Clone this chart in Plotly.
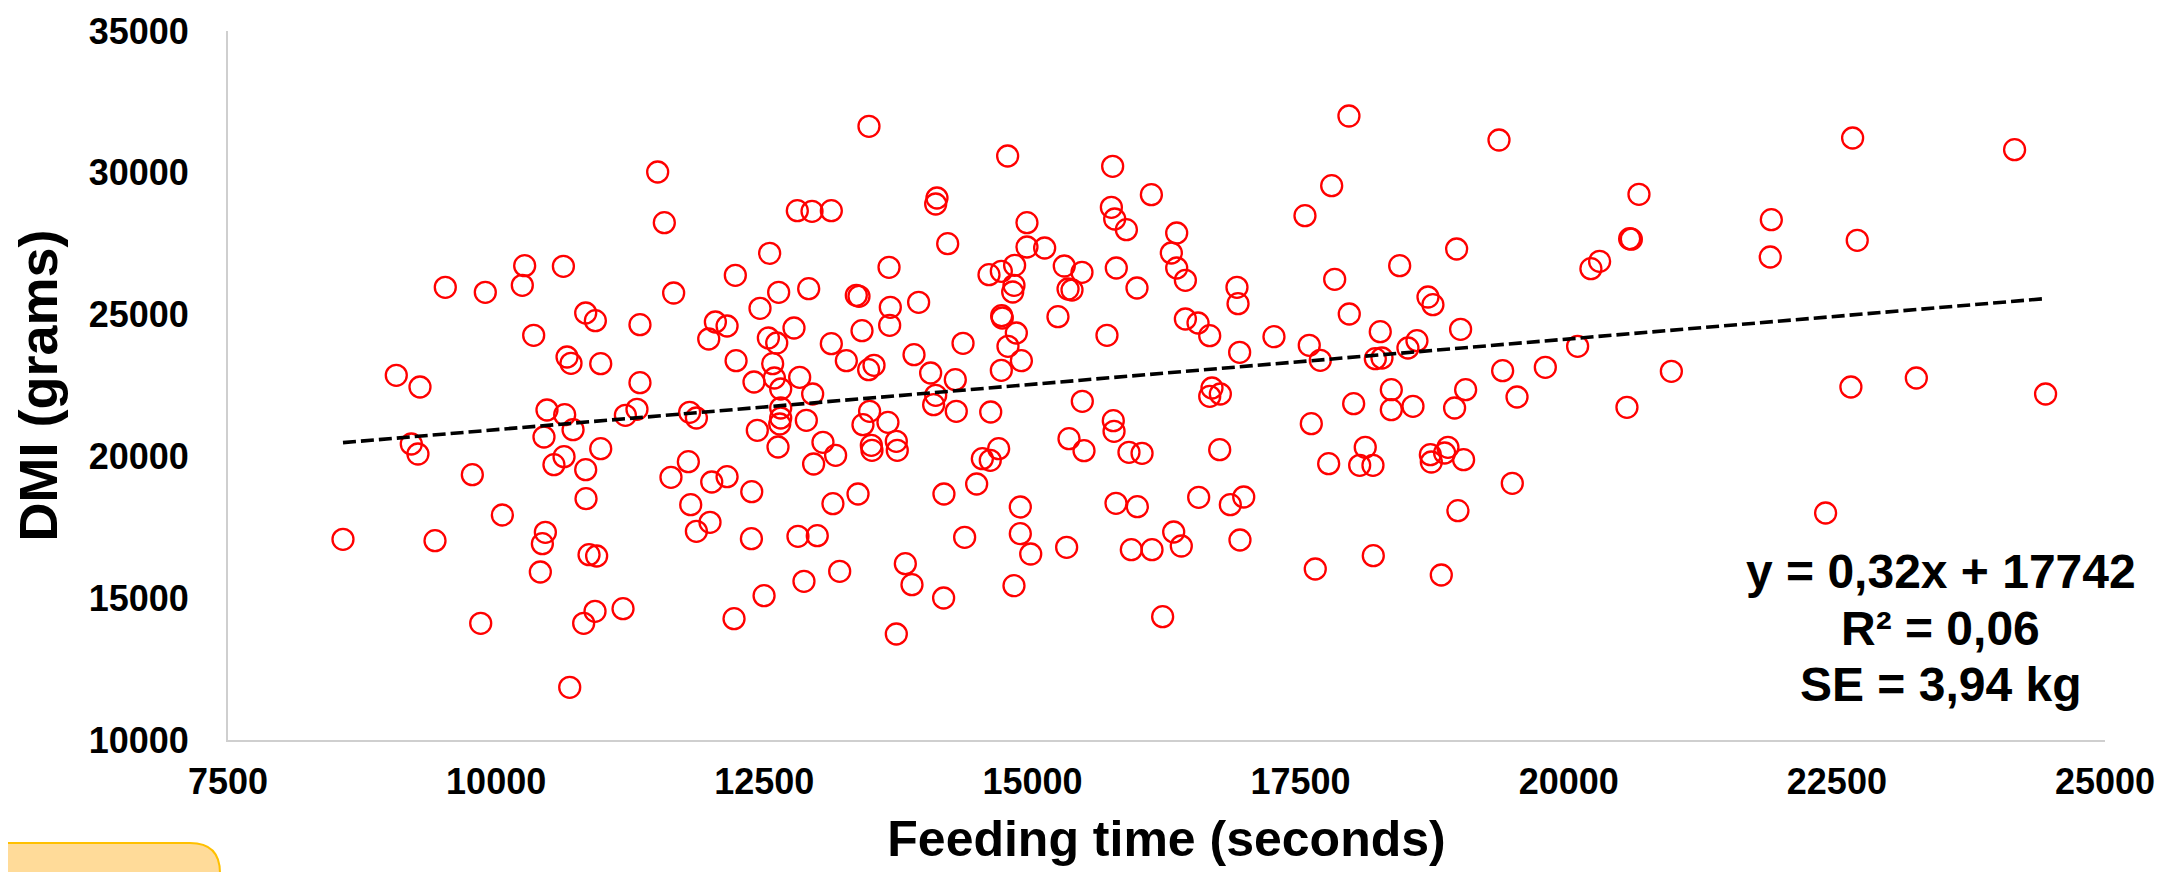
import plotly.graph_objects as go

# Feeding time (seconds)
feeding_time = [
    11506, 11568, 12550, 12230, 12634, 11655, 9526, 9899, 10266, 10627, 10244, 10835, 10925, 11341,
    10350, 12044, 12153, 11982, 12460, 12538, 12616, 10661, 10698, 10975, 12237, 12578, 12594, 12653,
    12404, 9069, 9290, 11341, 10474, 10639, 11205, 11313, 11804, 11867, 12653, 12653,
    12644, 12435, 12628, 10717, 10446, 9209, 9271, 10975, 10633, 10539, 10835, 9778, 10838, 10058,
    10459, 10431, 10412, 8572, 9430, 10866, 10937, 9856, 10816, 10922, 11183, 10686, 11792, 11630,
    12010, 12153, 12383, 11814, 11994, 11867, 12380, 12498, 12218,
    13476, 14769, 15748, 16109, 12808, 12945, 13125, 14110, 14098, 14210, 14949, 15736, 15767, 15876,
    16345, 16295, 16345, 16426, 14949, 15114, 14834, 14710, 14595, 14828, 14816, 15297, 15462, 15332,
    15369, 15782, 15975, 16907, 16917, 16426, 16544, 16653, 16932, 15695, 15238, 13663, 12914, 13358,
    13383, 13939, 13675, 13669, 13411, 12777, 13125, 13265, 13473, 13523, 13896, 14051, 14281, 14353,
    14713, 14719, 14850, 14772, 14897, 14710, 12830, 12951, 14098, 14079, 14290, 14611, 13482, 15465,
    16674, 16653, 16752,
    12892, 13420, 13653, 13047, 13165, 12960, 13498, 13504, 13731, 13740, 14533, 14607, 14685, 14480,
    14175, 13374, 13140, 12814, 12994, 13203, 12870, 13815, 13877, 14172, 13731, 14368, 14887, 14887,
    14984, 14828, 15319, 15341, 15481, 15754, 15761, 15900, 16022, 15779, 15978, 15922, 16115, 16317,
    16388, 16214, 16746, 16550, 16845, 16970, 16935,
    17951, 19350, 17790, 17541, 20655, 20568, 20584, 18955, 18424, 20288, 20207, 17818, 17954, 18688,
    18734, 18243, 18992, 17252, 17581, 17684, 18197, 18259, 18501, 18585, 20083, 20957, 19384, 19782,
    18346, 19039, 19518, 17995, 18346, 18548, 18936, 20543,
    17600, 18103, 17762, 18051, 18175, 18710, 18719, 18874, 18843, 19020, 19474, 18967, 17637, 18178,
    18812,
    22647, 24157, 21889, 21879, 22690, 22631, 23241, 24446, 22395,
]

# DMI (grams)
dmi = [
    30028, 28241, 27160, 26384, 25785, 25761, 25961, 25785, 26725, 26702, 26032, 25056, 24786, 24645,
    24269, 24739, 24598, 24140, 25221, 24175, 23998, 23505, 23281, 23270, 23375, 23270, 22764, 22376,
    22623, 22858, 22447, 22600, 21636, 21471, 21448, 21660, 21554, 21354, 21354, 21707,
    21142, 20919, 20331, 20942, 20684, 20437, 20084, 20272, 19990, 19708, 19532, 19356, 18509, 17934,
    17322, 16923, 15924, 17076, 17029, 16535, 16488, 14114, 14114, 14537, 14631, 11857, 19814, 19262,
    19097, 19285, 18756, 18298, 17675, 17358, 17099, 15089, 14278,
    31638, 30592, 30228, 29229, 28664, 28641, 28664, 29111, 28900, 27501, 28241, 28782, 28371, 27995,
    27877, 27172, 26643, 26208, 27383, 27348, 26737, 26525, 26408, 26032, 25797, 26713, 26490, 25902,
    25867, 26643, 25938, 25961, 25385, 24845, 24704, 24257, 23669, 24269, 24927, 26666, 25914, 25679,
    25644, 25432, 25256, 24621, 24433, 24527, 23975, 23375, 23058, 23211, 23587, 22941, 22706, 23987,
    24962, 24880, 24351, 23881, 23375, 23035, 22788, 22200, 22153, 21824, 21589, 21566, 21589, 21941,
    22412, 22118, 22200,
    21271, 21119, 21200, 20496, 20037, 19732, 20390, 20214, 20531, 20214, 19920, 19861, 20272, 19027,
    18674, 18674, 18333, 17181, 17205, 15947, 15595, 16218, 15477, 15007, 13738, 17146, 18216, 17275,
    16558, 15442, 16793, 20625, 20202, 21259, 20884, 20143, 20108, 18345, 18228, 16711, 16711, 17334,
    16840, 14349, 20237, 18556, 18298, 18568, 17052,
    32002, 31156, 29546, 28488, 29240, 27677, 27660, 27313, 26725, 26878, 26619, 26243, 25021, 25620,
    25350, 24398, 24480, 24222, 23916, 23387, 23446, 23470, 23822, 24081, 23881, 22999, 23023, 23141,
    22353, 22353, 22094, 21859, 21648, 21765, 21707, 21730,
    21154, 20320, 19744, 19685, 19685, 20061, 19802, 20320, 20120, 19885, 19050, 18086, 16030, 16500,
    15818,
    31227, 30815, 28347, 27031, 27618, 22447, 22764, 22200, 18004,
]

# Trendline (as printed on the chart)
slope = 0.32
intercept = 17742
equation_lines = ["y = 0,32x + 17742", "R² = 0,06", "SE = 3,94 kg"]

x_ticks = [7500, 10000, 12500, 15000, 17500, 20000, 22500, 25000]
y_ticks = [10000, 15000, 20000, 25000, 30000, 35000]

FONT = "Liberation Sans, Arial, sans-serif"

fig = go.Figure()
fig.add_trace(go.Scatter(
    x=feeding_time, y=dmi, mode="markers",
    marker=dict(symbol="circle-open", size=21, color="#FF0000", line=dict(width=2.3, color="#FF0000")),
    showlegend=False, hoverinfo="x+y",
))

x_line = [min(feeding_time), max(feeding_time)]
y_line = [slope * v + intercept for v in x_line]
fig.add_trace(go.Scatter(
    x=x_line, y=y_line, mode="lines",
    line=dict(color="black", width=3.6, dash="13px,5px"),
    showlegend=False, hoverinfo="skip",
))

ann_y = [0.2370, 0.1566, 0.0776]
for txt, yy in zip(equation_lines, ann_y):
    fig.add_annotation(
        text=txt, xref="paper", yref="paper", x=0.9126, y=yy,
        xanchor="center", yanchor="middle", showarrow=False,
        font=dict(family=FONT, size=48, color="black", weight="bold"),
    )

# decorative rounded tab at bottom-left
x0, x1 = -0.13, -0.00426
y0, y1 = -0.25, -0.14528
rx, ry = 0.016, 0.0423
fig.add_shape(
    type="path", xref="paper", yref="paper",
    path=f"M {x0},{y0} L {x0},{y1} L {x1-rx},{y1} Q {x1},{y1} {x1},{y1-ry} L {x1},{y0} Z",
    fillcolor="#FFDB99", line=dict(color="#FFC000", width=2), layer="above",
)

fig.update_layout(
    width=2178, height=872,
    margin=dict(l=220, r=81, t=23, b=140),
    plot_bgcolor="white", paper_bgcolor="white",
    font=dict(family=FONT, color="black"),
    xaxis=dict(
        range=[7500, 25000], tickvals=x_ticks, tickformat="d",
        showgrid=False, zeroline=False, showline=True, linecolor="#CFCFCF", linewidth=2,
        ticks="", ticklabelstandoff=9, automargin=False,
        tickfont=dict(family=FONT, size=36, color="black", weight="bold"),
        title=dict(text="Feeding time (seconds)", standoff=20,
                   font=dict(family=FONT, size=50, color="black", weight="bold")),
    ),
    yaxis=dict(
        range=[10000, 35000], tickvals=y_ticks, tickformat="d",
        showgrid=False, zeroline=False, showline=True, linecolor="#CFCFCF", linewidth=2,
        ticks="", ticklabelstandoff=30, automargin=False,
        tickfont=dict(family=FONT, size=36, color="black", weight="bold"),
        title=dict(text="DMI (grams)", standoff=14,
                   font=dict(family=FONT, size=54, color="black", weight="bold")),
    ),
)

fig.write_html("out.html")
